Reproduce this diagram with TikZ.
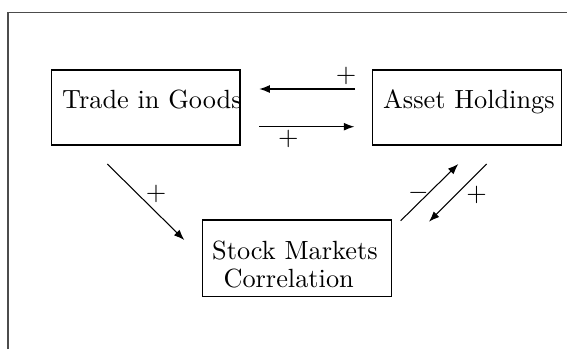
\documentclass[tikz,border=0pt]{standalone}
\usetikzlibrary{arrows.meta}
\begin{document}
\begin{tikzpicture}[x=0.38pt,y=-0.38pt,
  box/.style={draw,line width=0.4pt,inner sep=0pt},
  lbl/.style={inner sep=0pt,anchor=base west,font=\normalsize},
  sign/.style={inner sep=0pt},
  arr/.style={line width=0.4pt,-{Latex[length=4pt,width=3pt]}}]
\useasboundingbox (0,0) rectangle (567,349);
\draw[black!70,line width=0.4pt] (8,349) -- (8,12.5) -- (567,12.5);
% boxes
\node[box,minimum width=71.55pt,minimum height=28.5pt] (tg) at (145.85,107.5) {};
\node[box,minimum width=71.8pt,minimum height=28.5pt] (ah) at (467.2,107.5) {};
\node[box,minimum width=72pt,minimum height=29.1pt] (sm) at (297,258.3) {};
% texts
\node[lbl] (tgt) at (61.7,108.3) {Trade in Goods};
\node[lbl] (aht) at (382.7,108.3) {Asset Holdings};
\node[lbl] (smt1) at (211.7,259) {Stock Markets};
\node[lbl] (smt2) at (223,287.7) {Correlation};
% arrow end points
\coordinate (a1s) at (355,89);
\coordinate (a1e) at (259.3,89);
\coordinate (a2s) at (259.3,126.7);
\coordinate (a2e) at (354.3,126.7);
\coordinate (a3s) at (107.3,164);
\coordinate (a3e) at (184.3,240);
\coordinate (a4s) at (400.7,220.7);
\coordinate (a4e) at (458.3,164);
\coordinate (a5s) at (486.7,164);
\coordinate (a5e) at (429,221.7);
\draw[arr] (a1s) -- (a1e);
\draw[arr] (a2s) -- (a2e);
\draw[arr] (a3s) -- (a3e);
\draw[arr] (a4s) -- (a4e);
\draw[arr] (a5s) -- (a5e);
% signs
\node[sign] (p1) at (346,75.7) {$+$};
\node[sign] (p2) at (288.3,139.3) {$+$};
\node[sign] (p3) at (156,194.3) {$+$};
\node[sign] (m4) at (418.3,193.3) {$-$};
\node[sign] (p5) at (476.7,195) {$+$};
\end{tikzpicture}
\end{document}
